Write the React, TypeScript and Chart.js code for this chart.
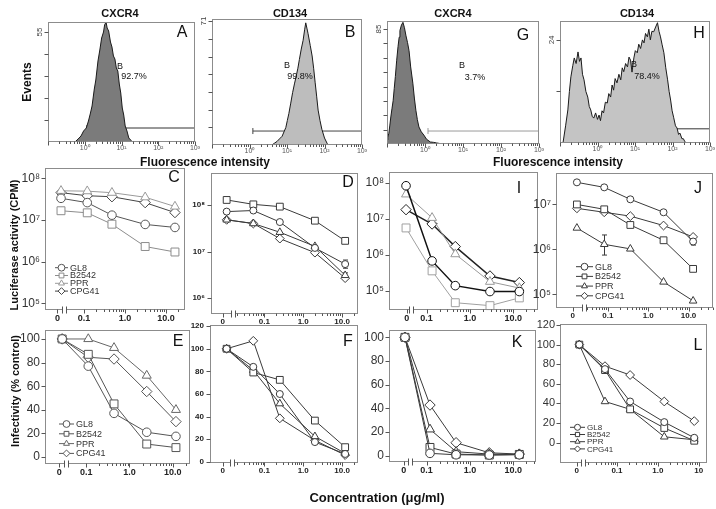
import React, { useEffect, useRef } from "react";
import { Chart, registerables } from "chart.js";

Chart.register(...registerables);
const FONT = 'Arial, "Liberation Sans", Helvetica, sans-serif';
Chart.defaults.font.family = FONT;

const PAD_L = 46, PAD_B = 22, PAD_T = 6, PAD_R = 6;

// ---------------- data ----------------
const seriesNames = ["GL8", "B2542", "PPR", "CPG41"];
const markerStyles = ["circle", "rect", "triangle", "rectRot"];

// Flow cytometry histograms (fluorescence intensity, events)
const histAX = [0.54, 0.66, 0.79, 0.93, 1.1, 1.26, 1.41, 1.58, 1.82, 2.0, 2.29, 2.57, 2.88, 3.24, 3.47, 3.8, 4.07, 4.47, 5.01, 5.5, 6.03, 6.61, 7.24, 7.94, 8.71, 9.55, 10.5, 11.5, 12.6, 14.1, 15.8, 18.2, 20];
const histAN = [0, 1.5, 3, 5.5, 7, 10.5, 14, 18, 26.5, 31, 40.5, 46, 52, 55, 58.5, 60, 57, 55.5, 50, 47.5, 43, 41.5, 37, 35.5, 29, 24.5, 17, 13.5, 8, 5.5, 2, 0.8, 0];
const histBX = [4.0, 4.6, 5.4, 6.3, 7.4, 8.3, 9.3, 10.2, 11.2, 12.6, 14.1, 15.8, 17.4, 19.5, 21.4, 24.0, 26.9, 29.5, 31.6, 33.9, 36.3, 41.7, 46.8, 51.3, 56.2, 61.7, 67.6, 75.9, 85.1, 100, 117, 126];
const histBN = [0, 1, 2, 3.5, 5, 7.5, 10, 14, 18, 24, 30, 35, 39, 44, 49, 55, 60, 66, 70, 67, 64, 57, 51, 44, 36, 28, 20, 14, 9, 4, 1, 0];
const histGX = [0.1, 0.105, 0.112, 0.119, 0.126, 0.135, 0.145, 0.155, 0.166, 0.18, 0.195, 0.209, 0.219, 0.24, 0.263, 0.288, 0.316, 0.347, 0.38, 0.42, 0.479, 0.525, 0.575, 0.63, 0.692, 0.8, 0.933, 1.1, 1.38, 1.7, 2.0, 2.4, 2.82];
const histGN = [3, 5, 8, 14, 20, 26, 32, 41, 50, 62, 72, 79, 84, 88, 90, 86, 80, 75, 69, 57, 45, 34, 25, 18, 12.6, 9, 6.6, 3.5, 1.5, 1.2, 0.8, 0.4, 0];
const histHX = [0.12, 0.141, 0.162, 0.178, 0.195, 0.219, 0.24, 0.269, 0.302, 0.331, 0.363, 0.398, 0.437, 0.49, 0.55, 0.603, 0.661, 0.724, 0.794, 0.891, 1.0, 1.1, 1.2, 1.32, 1.45, 1.62, 1.82, 2.0, 2.24, 2.45, 2.69, 2.95, 3.31, 3.72, 4.17, 4.57, 5.01, 5.62, 6.31, 6.92, 7.59, 8.32, 9.33, 10.2, 11.5, 12.6, 14.1, 15.8, 17.4, 19.1, 21.4, 23.4, 25.7, 28.2, 31.6, 35.5, 39.8, 43.7, 47.9, 52.5, 58.9, 66.1, 74.1, 81.3, 89.1, 97.7, 107, 120, 132, 145, 158, 178, 195, 214, 234];
const histHN = [0, 4, 7.7, 12, 15.4, 18, 19.8, 18.5, 21.2, 19, 19.8, 16, 14.7, 12, 10.7, 8.5, 7.7, 6.2, 5.8, 7, 5.5, 6.5, 5.2, 7.5, 7, 9.5, 9.3, 11.5, 10.7, 13.5, 12.3, 15, 14, 16, 14.7, 17.5, 16.6, 18.5, 17.7, 20, 19.3, 16.5, 19.8, 21.5, 21, 23, 22, 24, 23.3, 25.5, 24.7, 26.5, 24, 26, 25.9, 27, 28, 26, 24.7, 23, 21, 17.5, 14.7, 12, 10, 7.5, 6, 4, 3.5, 2, 2.3, 1, 1, 0.3, 0];
const gateAX = [1.15, 1000], gateAN = [7, 7];
const gateBX = [1.23, 1000], gateBN = [8, 8];
const gateGX = [1.2, 1000], gateGN = [9.6, 9.6];
const gateHX = [0.96, 1000], gateHN = [3.3, 3.3];

// Luciferase activity (CPM) vs concentration (ug/ml)
const concC = [0, 0.12, 0.48, 3.1, 16.5];
const lucC_GL8 = [3.3e7, 2.6e7, 1.3e7, 7.8e6, 6.6e6];
const lucC_B2542 = [1.66e7, 1.48e7, 7.9e6, 2.3e6, 1.7e6];
const lucC_PPR = [5.0e7, 4.9e7, 4.5e7, 3.5e7, 2.1e7];
const lucC_CPG41 = [4.5e7, 3.8e7, 3.6e7, 2.6e7, 1.5e7];

const concD = [0, 0.052, 0.25, 2.0, 12];
const lucD_GL8 = [7.2e7, 7.6e7, 4.3e7, 1.2e7, 5.4e6];
const lucD_B2542 = [1.28e8, 1.03e8, 9.2e7, 4.6e7, 1.7e7];
const lucD_PPR = [4.8e7, 4.0e7, 2.6e7, 1.3e7, 3.1e6];
const lucD_CPG41 = [4.8e7, 4.0e7, 1.9e7, 9.5e6, 2.7e6];

const concI = [0, 0.134, 0.46, 2.9, 13.8];
const lucI_GL8 = [8.3e7, 6.8e5, 1.4e5, 9.6e4, 9.6e4];
const lucI_B2542 = [5.6e6, 3.6e5, 4.7e4, 3.9e4, 6.4e4];
const lucI_PPR = [4.8e7, 1.07e7, 1.05e6, 1.8e5, 1.2e5];
const lucI_CPG41 = [1.8e7, 7.2e6, 1.7e6, 2.6e5, 1.7e5];

const concJ = [0, 0.081, 0.36, 2.4, 13];
const lucJ_GL8 = [3.1e7, 2.4e7, 1.3e7, 6.7e6, 1.5e6];
const lucJ_B2542 = [1.0e7, 7.8e6, 3.5e6, 1.6e6, 3.7e5];
const lucJ_PPR = [3.0e6, 1.3e6, 1.03e6, 1.9e5, 7.2e4];
const lucJ_CPG41 = [8.2e6, 6.7e6, 5.5e6, 3.4e6, 1.9e6];

// Infectivity (% control) vs concentration
const concE = [0, 0.112, 0.44, 2.5, 11.8];
const infE_GL8 = [100, 77, 37, 21, 17.5];
const infE_B2542 = [100, 87, 45, 11, 8];
const infE_PPR = [100, 100, 92.5, 69, 40];
const infE_CPG41 = [100, 84.5, 83, 55.5, 30];

const concF = [0, 0.052, 0.25, 2.0, 12];
const infF_GL8 = [100, 84, 60, 17.5, 7];
const infF_B2542 = [100, 79, 72.5, 36.5, 13];
const infF_PPR = [100, 81, 51.5, 22.5, 7.5];
const infF_CPG41 = [100, 107, 38.5, 19, 6];

const concK = [0, 0.12, 0.48, 2.8, 13.8];
const infK_GL8 = [100, 2, 0.8, 0.6, 0.8];
const infK_B2542 = [100, 7, 1.4, 0.6, 1.1];
const infK_PPR = [100, 22.3, 3.4, 1.4, 1.1];
const infK_CPG41 = [100, 42.8, 11, 2.5, 1.4];

const concL = [0, 0.051, 0.21, 1.44, 7.8];
const infL_GL8 = [100, 75, 42, 21, 5];
const infL_B2542 = [100, 74, 34, 15, 2];
const infL_PPR = [100, 42, 34, 6, 3];
const infL_CPG41 = [100, 78, 69, 42, 22];

// error bars [low, high] (only where visible)
const errD_GL8 = [null, null, null, null, [4.4e6, 6.6e6]];
const errD_PPR = [null, null, null, null, [2.6e6, 3.5e6]];
const errJ_GL8 = [null, null, null, null, [1.25e6, 1.8e6]];
const errJ_PPR = [null, [7.5e5, 2.1e6], null, null, null];

// tick labels
const logLabels = { 1e5: "10⁵", 1e6: "10⁶", 1e7: "10⁷", 1e8: "10⁸" };
const fluoLabels = [[1, "10⁰"], [10, "10¹"], [100, "10²"], [1000, "10³"]];

// ---------------- helpers ----------------
const minorAll = [0.02, 0.03, 0.04, 0.05, 0.06, 0.07, 0.08, 0.09, 0.2, 0.3, 0.4, 0.5, 0.6, 0.7, 0.8, 0.9, 2, 3, 4, 5, 6, 7, 8, 9, 20, 30, 40, 50, 60, 70, 80, 90, 200, 300, 400, 500, 600, 700, 800, 900];

function drawMarker(ctx, style, x, y, r) {
  ctx.beginPath();
  if (style === "circle") ctx.arc(x, y, r, 0, Math.PI * 2);
  else if (style === "rect") {
    const s = r * Math.SQRT1_2;
    ctx.rect(x - s, y - s, 2 * s, 2 * s);
  } else if (style === "triangle") {
    for (let k = 0; k < 3; k++) {
      const a = (k * 2 * Math.PI) / 3;
      const px = x + Math.sin(a) * r, py = y - Math.cos(a) * r;
      if (k) ctx.lineTo(px, py); else ctx.moveTo(px, py);
    }
    ctx.closePath();
  } else {
    ctx.moveTo(x, y - r); ctx.lineTo(x + r, y); ctx.lineTo(x, y + r); ctx.lineTo(x - r, y); ctx.closePath();
  }
  ctx.fill();
  ctx.stroke();
}

function decoPlugin(spec, offL, offT) {
  return {
    id: "deco",
    beforeDatasetsDraw(chart) {
      const { ctx, scales } = chart;
      ctx.save();
      chart.data.datasets.forEach((ds) => {
        if (!ds.errs) return;
        ctx.strokeStyle = ds.borderColor;
        ctx.lineWidth = 1;
        ds.errs.forEach((e, i) => {
          if (!e) return;
          const px = Math.round(scales.x.getPixelForValue(ds.data[i].x)) + 0.5;
          const y1 = scales.y.getPixelForValue(e[0]);
          const y2 = scales.y.getPixelForValue(e[1]);
          ctx.beginPath();
          ctx.moveTo(px, y1); ctx.lineTo(px, y2);
          ctx.moveTo(px - 2.5, y1); ctx.lineTo(px + 2.5, y1);
          ctx.moveTo(px - 2.5, y2); ctx.lineTo(px + 2.5, y2);
          ctx.stroke();
        });
      });
      ctx.restore();
    },
    afterDatasetsDraw(chart) {
      const { ctx, chartArea: a, scales } = chart;
      const xs = scales.x, ys = scales.y;
      ctx.save();
      const L = Math.round(a.left) + 0.5, T = Math.round(a.top) + 0.5;
      const R = Math.round(a.right) - 0.5, B = Math.round(a.bottom) - 0.5;
      ctx.strokeStyle = spec.boxColor || "#8c8c8c";
      ctx.lineWidth = 1;
      ctx.strokeRect(L, T, R - L, B - T);
      ctx.strokeStyle = spec.tickColor || "#555";
      ctx.beginPath();
      const inX = (v) => v >= xs.min && v <= xs.max;
      const inY = (v) => v >= ys.min && v <= ys.max;
      (spec.xMajor || []).filter(inX).forEach((v) => {
        const p = Math.round(xs.getPixelForValue(v)) + 0.5;
        ctx.moveTo(p, B); ctx.lineTo(p, B + 4);
      });
      (spec.xMinor || []).filter(inX).forEach((v) => {
        const p = Math.round(xs.getPixelForValue(v)) + 0.5;
        ctx.moveTo(p, B); ctx.lineTo(p, B + 2.5);
      });
      (spec.yMajor || []).filter(inY).forEach((v) => {
        const p = Math.round(ys.getPixelForValue(v)) + 0.5;
        ctx.moveTo(L, p); ctx.lineTo(L - 4, p);
      });
      ctx.stroke();
      if (spec.breakAt) {
        const p = Math.round(xs.getPixelForValue(spec.breakAt));
        ctx.fillStyle = "#fff";
        ctx.fillRect(p - 1, B - 1, 3, 3);
        ctx.beginPath();
        ctx.moveTo(p - 1.5, B - 3); ctx.lineTo(p - 1.5, B + 4);
        ctx.moveTo(p + 2.5, B - 3); ctx.lineTo(p + 2.5, B + 4);
        ctx.stroke();
      }
      if (spec.topLabel) {
        const p = ys.getPixelForValue(spec.topLabel.v);
        ctx.save();
        ctx.translate(L - 9, p);
        ctx.rotate(-Math.PI / 2);
        ctx.fillStyle = "#444";
        ctx.font = "8px " + FONT;
        ctx.textAlign = "center";
        ctx.textBaseline = "middle";
        ctx.fillText(spec.topLabel.text, 0, 0);
        ctx.restore();
      }
      if (spec.legend) {
        const lg = spec.legend;
        ctx.font = lg.font + "px " + FONT;
        ctx.textBaseline = "middle";
        ctx.textAlign = "left";
        chart.data.datasets.forEach((ds, i) => {
          if (!ds.inLegend) return;
          const y = lg.y + i * lg.dy - offT;
          const x0 = lg.x - offL;
          ctx.strokeStyle = ds.borderColor;
          ctx.lineWidth = 1;
          ctx.beginPath();
          ctx.moveTo(x0, y); ctx.lineTo(x0 + lg.len, y);
          ctx.stroke();
          ctx.fillStyle = "#fff";
          drawMarker(ctx, ds.pointStyle, x0 + lg.len / 2, y, lg.r);
          ctx.fillStyle = "#333";
          ctx.fillText(ds.label, x0 + lg.len + 2, y + 0.5);
        });
      }
      ctx.restore();
    },
  };
}

function axisOpts(ax, which) {
  return {
    type: ax.type,
    min: ax.min,
    max: ax.max,
    position: which === "x" ? "bottom" : "left",
    grid: { display: false, drawTicks: false },
    border: { display: false },
    afterBuildTicks: (s) => {
      s.ticks = ax.labels.map((t) => ({ value: t[0] }));
    },
    ticks: {
      display: ax.labels.length > 0,
      autoSkip: false,
      maxRotation: 0,
      minRotation: 0,
      padding: ax.pad,
      color: ax.color || "#222",
      font: ax.font,
      callback: (_v, i) => (ax.labels[i] ? ax.labels[i][1] : ""),
    },
    afterFit: (s) => {
      if (which === "x") s.height = PAD_B;
      else s.width = PAD_L;
      s.paddingLeft = 0; s.paddingRight = 0; s.paddingTop = 0; s.paddingBottom = 0;
    },
  };
}

function buildConfig(spec, offL, offT) {
  return {
    type: "line",
    data: { datasets: spec.datasets },
    options: {
      responsive: false,
      animation: false,
      events: [],
      layout: { autoPadding: false, padding: { left: 0, top: PAD_T, right: PAD_R, bottom: 0 } },
      plugins: { legend: { display: false }, tooltip: { enabled: false } },
      scales: { x: axisOpts(spec.x, "x"), y: axisOpts(spec.y, "y") },
    },
    plugins: [decoPlugin(spec, offL, offT)],
  };
}

function ChartPanel({ spec }) {
  const ref = useRef(null);
  const [l, t, r, b] = spec.box;
  const W = r - l + PAD_L + PAD_R, H = b - t + PAD_T + PAD_B;
  const left = l - PAD_L, top = t - PAD_T;
  useEffect(() => {
    const chart = new Chart(ref.current, buildConfig(spec, left, top));
    return () => chart.destroy();
  }, []);
  return <canvas ref={ref} width={W} height={H} style={{ position: "absolute", left, top, width: W, height: H }} />;
}

// ---------------- panel specs ----------------
const radiusBig = { circle: 4.3, rect: 5.6, triangle: 5.2, rectRot: 5.2 };
const radiusSmall = { circle: 3.5, rect: 4.8, triangle: 4.4, rectRot: 4.4 };

function seriesSets(conc, zero, values, colors, widths, radii, errs, legend) {
  return values.map((vals, k) => ({
    label: seriesNames[k],
    data: conc.map((c, i) => ({ x: c === 0 ? zero : c, y: vals[i] })),
    borderColor: colors[k],
    borderWidth: widths[k],
    pointStyle: markerStyles[k],
    pointRadius: radii[markerStyles[k]],
    pointBackgroundColor: "#fff",
    pointBorderColor: colors[k],
    pointBorderWidth: 1,
    tension: 0,
    fill: false,
    clip: false,
    errs: errs ? errs[k] : undefined,
    inLegend: !!legend,
  }));
}

function histSpec(box, xs, ns, gx, gn, ymax, fill, gateColor, yTicks, topText) {
  return {
    box,
    x: { type: "logarithmic", min: 0.1, max: 1000, labels: fluoLabels, font: { size: 7 }, color: "#555", pad: 2 },
    y: { type: "linear", min: 0, max: ymax, labels: [] },
    xMajor: [0.1, 1, 10, 100, 1000],
    xMinor: minorAll.filter((v) => v > 0.1),
    yMajor: yTicks,
    topLabel: { v: yTicks[yTicks.length - 1], text: topText },
    boxColor: "#8c8c8c",
    datasets: [
      {
        data: xs.map((x, i) => ({ x, y: ns[i] })),
        fill: "origin",
        backgroundColor: fill,
        borderColor: "#1a1a1a",
        borderWidth: 1,
        pointRadius: 0,
        tension: 0,
      },
      {
        data: gx.map((x, i) => ({ x, y: gn[i] })),
        fill: false,
        borderColor: gateColor,
        borderWidth: 1,
        pointStyle: "line",
        rotation: 90,
        pointRadius: 3,
        pointBorderColor: gateColor,
        pointBorderWidth: 1,
        tension: 0,
      },
    ],
  };
}

const logY = (vals) => vals.map((v) => [v, logLabels[v]]);
const linY = (vals) => vals.map((v) => [v, String(v)]);

const bigTickFont = { size: 12 };
const boldSmall = { size: 8, weight: "bold" };
const boldX = { size: 9, weight: "bold" };

const grayC = ["#555", "#8c8c8c", "#9a9a9a", "#444"];
const dark = ["#3a3a3a", "#3a3a3a", "#3a3a3a", "#3a3a3a"];
const grayE = ["#555", "#555", "#666", "#555"];
const grayI = ["#111", "#a0a0a0", "#999", "#222"];
const w1 = [1, 1, 1, 1];

const specs = [
  histSpec([48, 22, 195, 142], histAX, histAN, gateAX, gateAN, 60, "#7b7b7b", "#333", [11, 22, 33, 44, 55], "55"),
  histSpec([212, 19, 362, 145], histBX, histBN, gateBX, gateBN, 72.2, "#bdbdbd", "#444", [10.14, 20.29, 30.43, 40.57, 50.71, 60.86, 71], "71"),
  histSpec([387, 21, 539, 144], histGX, histGN, gateGX, gateGN, 91, "#7b7b7b", "#9a9a9a", [10.6, 21.3, 31.9, 42.5, 53.1, 63.8, 74.4, 85], "85"),
  histSpec([560, 21, 710, 143], histHX, histHN, gateHX, gateHN, 28.4, "#c4c4c4", "#333", [12, 24], "24"),
  {
    box: [45, 168, 185, 310],
    x: { type: "logarithmic", min: 0.0112, max: 29, labels: [[0.0225, "0"], [0.1, "0.1"], [1, "1.0"], [10, "10.0"]], font: boldX, pad: 3 },
    y: { type: "logarithmic", min: 6.9e4, max: 1.76e8, labels: logY([1e5, 1e6, 1e7, 1e8]), font: bigTickFont, color: "#333", pad: 5 },
    xMajor: [0.0225, 0.1, 1, 10], xMinor: minorAll.filter((v) => v > 0.1), yMajor: [1e5, 1e6, 1e7, 1e8],
    breakAt: 0.0325,
    datasets: seriesSets(concC, 0.0275, [lucC_GL8, lucC_B2542, lucC_PPR, lucC_CPG41], grayC, w1, radiusBig, null, true),
    legend: { x: 55, y: 267.7, dy: 7.8, len: 13, font: 9, r: 3.4 },
  },
  {
    box: [211, 173, 358, 314],
    x: { type: "logarithmic", min: 0.00423, max: 25.7, labels: [[0.0085, "0"], [0.1, "0.1"], [1, "1.0"], [10, "10.0"]], font: boldSmall, pad: 3 },
    y: { type: "logarithmic", min: 4.6e5, max: 4.84e8, labels: logY([1e6, 1e7, 1e8]), font: boldSmall, pad: 6 },
    xMajor: [0.0085, 0.1, 1, 10], xMinor: minorAll.filter((v) => v > 0.018), yMajor: [1e6, 1e7, 1e8],
    breakAt: 0.0156,
    datasets: seriesSets(concD, 0.0107, [lucD_GL8, lucD_B2542, lucD_PPR, lucD_CPG41], dark, w1, radiusSmall, [errD_GL8, null, errD_PPR, null], false),
  },
  {
    box: [389, 172, 538, 310],
    x: { type: "logarithmic", min: 0.0136, max: 37.2, labels: [[0.0348, "0"], [0.1, "0.1"], [1, "1.0"], [10, "10.0"]], font: boldX, pad: 3 },
    y: { type: "logarithmic", min: 2.95e4, max: 2.0e8, labels: logY([1e5, 1e6, 1e7, 1e8]), font: bigTickFont, color: "#333", pad: 5 },
    xMajor: [0.0348, 0.1, 1, 10], xMinor: minorAll.filter((v) => v > 0.1), yMajor: [1e5, 1e6, 1e7, 1e8],
    breakAt: 0.0438,
    datasets: seriesSets(concI, 0.0336, [lucI_GL8, lucI_B2542, lucI_PPR, lucI_CPG41], grayI, [1.5, 1, 1, 1.5], radiusBig, null, false),
  },
  {
    box: [556, 173, 713, 308],
    x: { type: "logarithmic", min: 0.00515, max: 40.5, labels: [[0.0134, "0"], [0.1, "0.1"], [1, "1.0"], [10, "10.0"]], font: boldSmall, pad: 3 },
    y: { type: "logarithmic", min: 5.0e4, max: 5.0e7, labels: logY([1e5, 1e6, 1e7]), font: bigTickFont, color: "#333", pad: 5 },
    xMajor: [0.0134, 0.1, 1, 10], xMinor: minorAll.filter((v) => v > 0.028), yMajor: [1e5, 1e6, 1e7],
    breakAt: 0.026,
    datasets: seriesSets(concJ, 0.017, [lucJ_GL8, lucJ_B2542, lucJ_PPR, lucJ_CPG41], dark, w1, radiusSmall, [errJ_GL8, null, errJ_PPR, null], true),
    legend: { x: 576, y: 266.7, dy: 9.7, len: 17, font: 9, r: 3.4 },
  },
  {
    box: [45, 330, 190, 464],
    x: { type: "logarithmic", min: 0.01124, max: 24.9, labels: [[0.024, "0"], [0.1, "0.1"], [1, "1.0"], [10, "10.0"]], font: boldX, pad: 3 },
    y: { type: "linear", min: -5.9, max: 107.6, labels: linY([0, 20, 40, 60, 80, 100]), font: bigTickFont, color: "#333", pad: 5 },
    xMajor: [0.024, 0.1, 1, 10], xMinor: minorAll.filter((v) => v > 0.1), yMajor: [0, 20, 40, 60, 80, 100],
    breakAt: 0.0352,
    datasets: seriesSets(concE, 0.028, [infE_GL8, infE_B2542, infE_PPR, infE_CPG41], grayE, w1, radiusBig, null, true),
    legend: { x: 59, y: 424, dy: 9.8, len: 15, font: 9, r: 3.4 },
  },
  {
    box: [210, 325, 358, 463],
    x: { type: "logarithmic", min: 0.004, max: 25.7, labels: [[0.0085, "0"], [0.1, "0.1"], [1, "1.0"], [10, "10.0"]], font: boldSmall, pad: 3 },
    y: { type: "linear", min: -1, max: 121, labels: linY([0, 20, 40, 60, 80, 100, 120]), font: boldSmall, pad: 6 },
    xMajor: [0.0085, 0.1, 1, 10], xMinor: minorAll.filter((v) => v > 0.018), yMajor: [0, 20, 40, 60, 80, 100, 120],
    breakAt: 0.0151,
    datasets: seriesSets(concF, 0.0107, [infF_GL8, infF_B2542, infF_PPR, infF_CPG41], dark, w1, radiusSmall, null, false),
  },
  {
    box: [389, 330, 536, 462],
    x: { type: "logarithmic", min: 0.0136, max: 33.5, labels: [[0.0297, "0"], [0.1, "0.1"], [1, "1.0"], [10, "10.0"]], font: boldX, pad: 3 },
    y: { type: "linear", min: -5.3, max: 106.2, labels: linY([0, 20, 40, 60, 80, 100]), font: bigTickFont, color: "#333", pad: 5 },
    xMajor: [0.0297, 0.1, 1, 10], xMinor: minorAll.filter((v) => v > 0.1), yMajor: [0, 20, 40, 60, 80, 100],
    breakAt: 0.0411,
    datasets: seriesSets(concK, 0.0318, [infK_GL8, infK_B2542, infK_PPR, infK_CPG41], dark, w1, radiusBig, null, false),
  },
  {
    box: [560, 324, 707, 463],
    x: { type: "logarithmic", min: 0.00404, max: 16.0, labels: [[0.0103, "0"], [0.1, "0.1"], [1, "1.0"], [10, "10"]], font: boldSmall, pad: 3 },
    y: { type: "linear", min: -20.7, max: 121, labels: linY([0, 20, 40, 60, 80, 100, 120]), font: { size: 11 }, color: "#333", pad: 5 },
    xMajor: [0.0103, 0.1, 1, 10], xMinor: minorAll.filter((v) => v > 0.018), yMajor: [0, 20, 40, 60, 80, 100, 120],
    breakAt: 0.015,
    datasets: seriesSets(concL, 0.012, [infL_GL8, infL_B2542, infL_PPR, infL_CPG41], dark, w1, radiusSmall, null, true),
    legend: { x: 570, y: 427.3, dy: 7.2, len: 15, font: 8, r: 3.0 },
  },
];

// ---------------- static texts ----------------
const texts = [
  { t: "CXCR4", x: 120, y: 13, s: 11, w: 700 },
  { t: "CD134", x: 290, y: 13, s: 11, w: 700 },
  { t: "CXCR4", x: 453, y: 13, s: 11, w: 700 },
  { t: "CD134", x: 637, y: 13, s: 11, w: 700 },
  { t: "Events", x: 27, y: 82, s: 12, w: 700, rot: true },
  { t: "Fluorescence intensity", x: 205, y: 162, s: 12, w: 700 },
  { t: "Fluorescence intensity", x: 558, y: 162, s: 12, w: 700 },
  { t: "Luciferase activity (CPM)", x: 14, y: 245, s: 11, w: 700, rot: true },
  { t: "Infectivity (% control)", x: 15, y: 391, s: 11, w: 700, rot: true },
  { t: "Concentration (μg/ml)", x: 377, y: 497, s: 13, w: 700 },
  { t: "A", x: 182, y: 32, s: 16 },
  { t: "B", x: 350, y: 32, s: 16 },
  { t: "G", x: 523, y: 35, s: 16 },
  { t: "H", x: 699, y: 33, s: 16 },
  { t: "C", x: 174, y: 177, s: 16 },
  { t: "D", x: 348, y: 182, s: 16 },
  { t: "I", x: 519, y: 188, s: 16 },
  { t: "J", x: 698, y: 188, s: 16 },
  { t: "E", x: 178, y: 341, s: 16 },
  { t: "F", x: 348, y: 341, s: 16 },
  { t: "K", x: 517, y: 342, s: 16 },
  { t: "L", x: 698, y: 345, s: 16 },
  { t: "B", x: 120, y: 66, s: 9 },
  { t: "92.7%", x: 134, y: 76, s: 9 },
  { t: "B", x: 287, y: 65, s: 9 },
  { t: "99.8%", x: 300, y: 76, s: 9 },
  { t: "B", x: 462, y: 65, s: 9 },
  { t: "3.7%", x: 475, y: 77, s: 9 },
  { t: "B", x: 634, y: 64, s: 9 },
  { t: "78.4%", x: 647, y: 76, s: 9 },
];

export default function App() {
  return (
    <div style={{ position: "fixed", left: 0, top: 0, width: 716, height: 509, background: "#fff", overflow: "hidden", fontFamily: FONT, color: "#111" }}>
      {specs.map((s, i) => (
        <ChartPanel key={i} spec={s} />
      ))}
      {texts.map((d, i) => (
        <div
          key={"t" + i}
          style={{
            position: "absolute",
            left: d.x,
            top: d.y,
            fontSize: d.s,
            fontWeight: d.w || 400,
            lineHeight: 1,
            whiteSpace: "nowrap",
            transform: "translate(-50%, -50%)" + (d.rot ? " rotate(-90deg)" : ""),
          }}
        >
          {d.t}
        </div>
      ))}
    </div>
  );
}
